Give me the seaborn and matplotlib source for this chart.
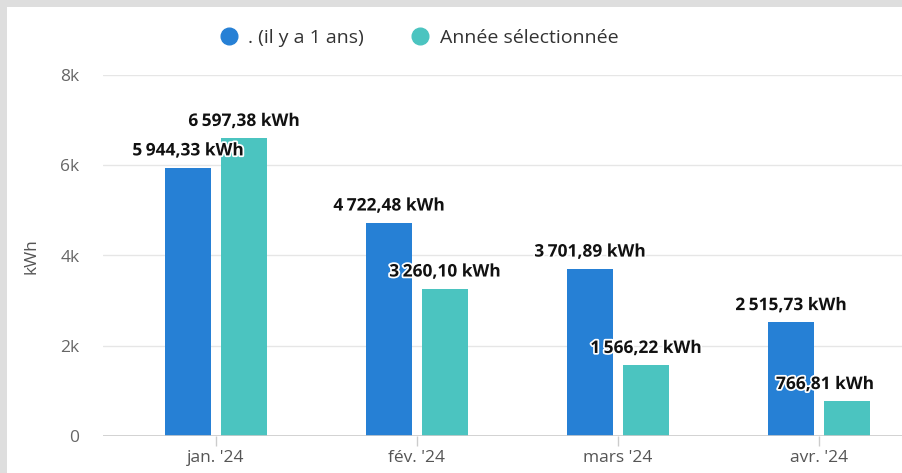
import matplotlib
matplotlib.use("Agg")
import matplotlib.pyplot as plt
import matplotlib.patheffects as pe
from matplotlib.patches import Rectangle
from matplotlib.lines import Line2D
import seaborn as sns
import pandas as pd

# ---- data ----
months = ["jan. '24", "fév. '24", "mars '24", "avr. '24"]
series_names = [". (il y a 1 ans)", "Année sélectionnée"]
prev_year = [5944.33, 4722.48, 3701.89, 2515.73]
selected_year = [6597.38, 3260.10, 1566.22, 766.81]
y_ticks = [0, 2000, 4000, 6000, 8000]
y_tick_labels = ["0", "2k", "4k", "6k", "8k"]
y_label = "kWh"

colors = ["#2680d5", "#4bc4c0"]

df = pd.DataFrame({
    "month": months * 2,
    "series": [series_names[0]] * 4 + [series_names[1]] * 4,
    "value": prev_year + selected_year,
})

sns.set_theme(style="white")
plt.rcParams["font.family"] = ["Open Sans", "DejaVu Sans"]

W, H = 903, 473
fig = plt.figure(figsize=(W / 100, H / 100), dpi=100)
fig.patch.set_facecolor("#dedede")
fig.patches.append(Rectangle((7 / W, 0), 1, (H - 7) / H, transform=fig.transFigure,
                             facecolor="white", edgecolor="none", zorder=-5))

ax = fig.add_axes([103 / W, 37 / H, 1 - 103 / W, (436 - 75) / H])
ax.set_facecolor("none")

sns.barplot(data=df, x="month", y="value", hue="series", hue_order=series_names,
            palette=colors, width=0.557, gap=0.18, ax=ax, legend=False,
            saturation=1, linewidth=0)

ax.set_xlim(-0.562, 3.418)
ax.set_ylim(0, 8000)
ax.set_yticks(y_ticks)
ax.set_yticklabels(y_tick_labels)
ax.set_xlabel("")
ax.set_ylabel("")
for s in ax.spines.values():
    s.set_visible(False)
ax.grid(axis="y", color="#e6e6e6", linewidth=1)
ax.grid(axis="x", visible=False)
ax.set_axisbelow(True)
ax.axhline(0, color="#cccccc", linewidth=1.2, zorder=1)
ax.tick_params(axis="y", length=0, pad=17, labelsize=12.5, labelcolor="#666666")
ax.tick_params(axis="x", length=7, width=1, color="#cccccc", bottom=True,
               pad=3, labelsize=12.5, labelcolor="#555555")

fig.text(32 / W, 1 - 256 / H, y_label, rotation=90, ha="center", va="center",
         fontsize=12.5, color="#555555")

# data labels
def fmt(v):
    s = f"{v:,.2f}"
    s = s.replace(",", "\u2009").replace(".", ",")
    return s + " kWh"

fig.canvas.draw()
renderer = fig.canvas.get_renderer()
limit_px = 874
for cont, vals in zip(ax.containers, [prev_year, selected_year]):
    for bar, v in zip(cont, vals):
        cx = bar.get_x() + bar.get_width() / 2
        t = ax.annotate(fmt(v), (cx, bar.get_height()), xytext=(0, 12.5),
                        textcoords="offset points", ha="center", va="center",
                        fontsize=12.5, fontweight="bold", color="#111111",
                        path_effects=[pe.withStroke(linewidth=2.5, foreground="white")],
                        zorder=5)
        bb = t.get_window_extent(renderer)
        if bb.x1 > limit_px:
            shift = (limit_px - bb.x1) * 72 / fig.dpi
            t.set_position((shift, 12.5))

handles = [Line2D([], [], marker="o", linestyle="", markersize=12,
                  markerfacecolor=c, markeredgecolor=c) for c in colors]
fig.legend(handles, series_names, loc="center", bbox_to_anchor=(414 / W, 1 - 38 / H),
           ncol=2, frameon=False, fontsize=14, handletextpad=0.0,
           columnspacing=1.9, labelcolor="#333333")

fig.savefig("out.png", dpi=100)
